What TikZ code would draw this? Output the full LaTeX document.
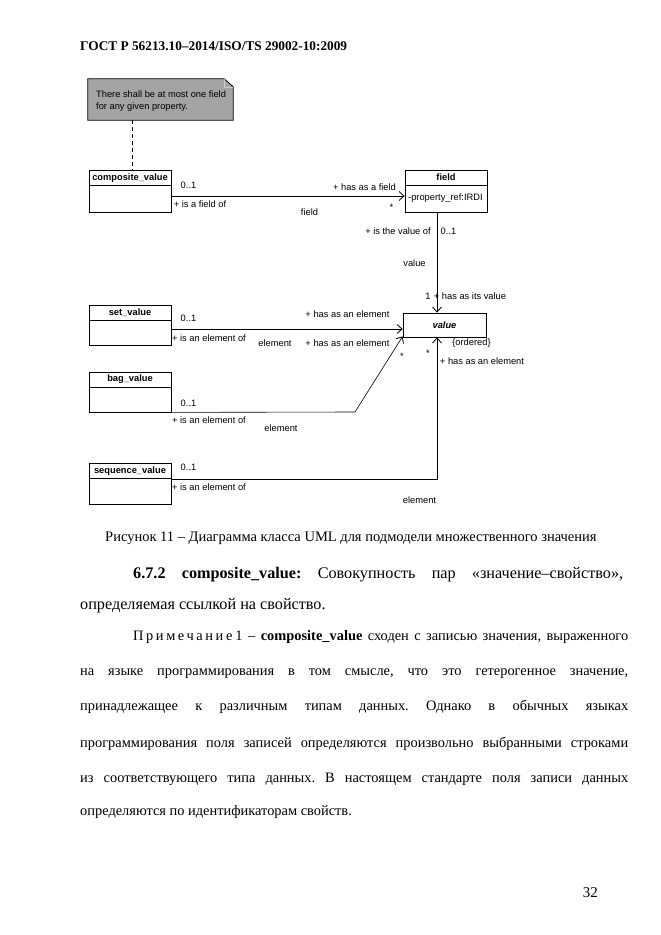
\documentclass[tikz,border=0pt]{standalone}
\usepackage{fontspec}
\setmainfont{Liberation Serif}
\newfontfamily\umlfont{Liberation Sans}
\usetikzlibrary{arrows.meta,calc}
\definecolor{notegray}{RGB}{164,164,164}
\frenchspacing
\begin{document}
\begin{tikzpicture}[x=1pt,y=-1pt,
  umlbox/.style={draw, line width=0.8pt, minimum width=82pt, inner sep=0pt, fill=white},
  lbl/.style={font=\umlfont\fontsize{9.3}{11}\selectfont, inner sep=0pt},
  ttl/.style={font=\umlfont\bfseries\fontsize{9.3}{11}\selectfont, inner sep=0pt},
  assoc/.style={draw, line width=0.8pt, -{Straight Barb[length=5pt,width=9pt,line width=0.8pt]}},
  body/.style={font=\fontsize{16.2}{19}\selectfont, inner sep=0pt, anchor=base west},
  notetext/.style={font=\fontsize{14.4}{17}\selectfont, inner sep=0pt, anchor=base west},
  captext/.style={font=\fontsize{14.5}{17}\selectfont, inner sep=0pt, anchor=base west},
]
\useasboundingbox (0,0) rectangle (661,935);
\fill[white] (0,0) rectangle (661,935);

% header
\node[anchor=base west, inner sep=0pt, font=\bfseries\fontsize{13.3}{16}\selectfont] (hdr) at (80,50) {ГОСТ Р 56213.10–2014/ISO/TS 29002-10:2009};

% note
\node[minimum width=145pt, minimum height=41pt, inner sep=0pt] (note) at (160.5,99.5) {};
\filldraw[fill=notegray, draw=black, line width=0.8pt] (note.north west) -- ([xshift=-9pt]note.north east) -- ([yshift=-8pt]note.north east) -- (note.south east) -- (note.south west) -- cycle;
\draw[line width=0.4pt, gray!40] ([xshift=-9pt]note.north east) -- ([xshift=-9pt,yshift=-8pt]note.north east) -- ([yshift=-8pt]note.north east);
\node[lbl, anchor=west, align=left, font=\umlfont\fontsize{9.3}{12}\selectfont] (notetxt) at (96,101) {There shall be at most one field\\for any given property.};

% classes
\node[umlbox, minimum height=42pt] (cv) at (130,191) {};
\draw[line width=0.8pt] ($(cv.north west)+(0,16)$) -- ($(cv.north east)+(0,16)$);
\node[ttl] (cvt) at ($(cv.north)+(0,8)$) {composite\_value};

\node[umlbox, minimum height=42pt] (field) at (446,191) {};
\draw[line width=0.8pt] ($(field.north west)+(0,16)$) -- ($(field.north east)+(0,16)$);
\node[ttl] (fieldt) at ($(field.north)+(0,8)$) {field};
\node[lbl, anchor=west] (fielda) at (408,198) {-property\_ref:IRDI};

\node[umlbox, minimum width=83pt, minimum height=24pt] (val) at (444.5,325) {};
\node[ttl, font=\umlfont\bfseries\itshape\fontsize{9.3}{11}\selectfont] (valt) at (val.center) {value};

\node[umlbox, minimum height=40pt] (sv) at (130,325) {};
\draw[line width=0.8pt] ($(sv.north west)+(0,16)$) -- ($(sv.north east)+(0,16)$);
\node[ttl] (svt) at ($(sv.north)+(0,8)$) {set\_value};

\node[umlbox, minimum height=40pt] (bv) at (130,392) {};
\draw[line width=0.8pt] ($(bv.north west)+(0,16)$) -- ($(bv.north east)+(0,16)$);
\node[ttl] (bvt) at ($(bv.north)+(0,8)$) {bag\_value};

\node[umlbox, minimum height=41pt] (sq) at (130,483.5) {};
\draw[line width=0.8pt] ($(sq.north west)+(0,16)$) -- ($(sq.north east)+(0,16)$);
\node[ttl] (sqt) at ($(sq.north)+(0,8)$) {sequence\_value};

% connectors
\coordinate (dx) at (132,0);
\draw[line width=0.8pt, dash pattern=on 4pt off 3pt] (note.south -| dx) -- (cv.north -| dx);
\draw[assoc] ([yshift=-5pt]cv.east) -- ([yshift=-5pt]field.west);
\coordinate (vx) at (437,0);
\draw[assoc] (field.south -| vx) -- (val.north -| vx);
\draw[assoc] ([yshift=-4pt]sv.east) -- ([yshift=-4pt]val.west);
\coordinate (bb) at (355,412);
\draw[assoc, line width=0.6pt] (bv.south east) -- (bb) -- ([yshift=1pt]val.south west);
\draw[assoc] ([yshift=4.5pt]sq.east) -| (val.south -| vx);

% labels
\node[lbl] (a1) at (188.5,185) {0..1};
\node[lbl] (a2) at (364.5,187) {+ has as a field};
\node[lbl] (a3) at (200,204) {+ is a field of};
\node[lbl] (a4) at (309.5,212) {field};
\node[lbl] (a5) at (391.5,207) {*};
\node[lbl] (b1) at (398,231) {+ is the value of};
\node[lbl] (b2) at (448.5,231) {0..1};
\node[lbl] (b3) at (414.5,263) {value};
\node[lbl] (b4) at (428,296) {1};
\node[lbl] (b5) at (470,296) {+ has as its value};
\node[lbl] (b6) at (471.5,343) {\{ordered\}};
\node[lbl] (c1) at (188.5,318) {0..1};
\node[lbl] (c2) at (347.5,314) {+ has as an element};
\node[lbl] (c3) at (209,338) {+ is an element of};
\node[lbl] (c4) at (275,343) {element};
\node[lbl] (d1) at (347.5,343) {+ has as an element};
\node[lbl] (d2) at (402,356) {*};
\node[lbl] (d3) at (188.5,403) {0..1};
\node[lbl] (d4) at (209,420) {+ is an element of};
\node[lbl] (d5) at (281,428) {element};
\node[lbl] (e1) at (428,353) {*};
\node[lbl] (e2) at (482,361) {+ has as an element};
\node[lbl] (e3) at (188.5,467) {0..1};
\node[lbl] (e4) at (209,487) {+ is an element of};
\node[lbl] (e5) at (419.5,500) {element};

% text
\node[captext] (cap) at (105,541) {Рисунок 11 – Диаграмма класса UML для подмодели множественного значения};
\node[body] (t1) at (133,578) {\makebox[490pt][s]{\textbf{6.7.2} \textbf{composite\_value:} Совокупность пар «значение–свойство»,}};
\node[body] (t2) at (80,609) {определяемая ссылкой на свойство.};
\node[notetext] (n1) at (133,640) {\makebox[495pt][s]{{\addfontfeature{LetterSpace=18}Примечание}\kern3pt 1 – \textbf{composite\_value} сходен с записью значения, выраженного}};
\node[notetext] (n2) at (80,675) {\makebox[548pt][s]{на языке программирования в том смысле, что это гетерогенное значение,}};
\node[notetext] (n3) at (80,710) {\makebox[548pt][s]{принадлежащее к различным типам данных. Однако в обычных языках}};
\node[notetext] (n4) at (80,747) {\makebox[548pt][s]{программирования поля записей определяются произвольно выбранными строками}};
\node[notetext] (n5) at (80,782) {\makebox[548pt][s]{из соответствующего типа данных. В настоящем стандарте поля записи данных}};
\node[notetext] (n6) at (80,815) {определяются по идентификаторам свойств.};
\node[body, anchor=base east, font=\fontsize{15}{18}\selectfont] (pg) at (598,897) {32};
\end{tikzpicture}
\end{document}
